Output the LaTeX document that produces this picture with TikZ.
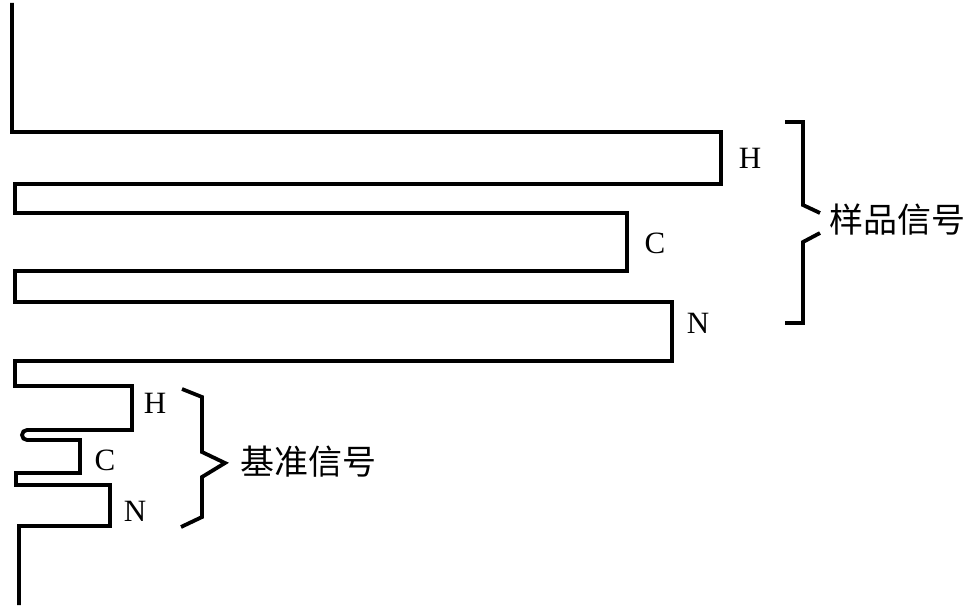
\documentclass[tikz,border=0pt]{standalone}
\usepackage{fontspec}
\setmainfont{Liberation Serif}
\newfontfamily\cjk{Noto Sans CJK SC}
\usetikzlibrary{positioning}

\begin{document}
\begin{tikzpicture}[x=1pt, y=-1pt]
	\tikzset{
		trace/.style={line width=3.8pt, line join=miter},
		brace/.style={line width=3.8pt, line join=miter},
		peaklabel/.style={font=\fontsize{31}{36}\selectfont, inner sep=0pt},
		grouplabel/.style={font=\cjk\fontsize{34}{40}\selectfont, inner sep=0pt, anchor=west}
	}
	\useasboundingbox (0,0) rectangle (972,612);
	% signal trace
	\draw[trace] (12,3) -- (12,132) -- (721,132) -- (721,184) -- (15,184) -- (15,213)
		-- (627,213) -- (627,271) -- (15,271) -- (15,302) -- (672,302) -- (672,361)
		-- (15,361) -- (15,386) -- (132,386) -- (132,430) -- (27,430)
		arc[start angle=90, end angle=270, radius=5pt] -- (80,440) -- (80,473)
		-- (16,473) -- (16,485) -- (110,485) -- (110,526) -- (19,526) -- (19,605);
	% peak labels
	\node[peaklabel] (sH) at (750,158) {H};
	\node[peaklabel] (sC) at (655,243) {C};
	\node[peaklabel] (sN) at (698,323) {N};
	\node[peaklabel] (rH) at (155,403) {H};
	\node[peaklabel] (rC) at (105,460) {C};
	\node[peaklabel] (rN) at (135,511) {N};
	% braces
	\draw[brace] (785,122) -- (803,122) -- (803,205) -- (820,213);
	\draw[brace] (820,233) -- (803,242) -- (803,323) -- (785,323);
	\node[grouplabel] (sample) at (829,220) {样品信号};
	\draw[brace] (182,389) -- (202,397) -- (202,452) -- (225,463) -- (202,477) -- (202,517) -- (181,527);
	\node[grouplabel] (reference) at (240,462) {基准信号};
\end{tikzpicture}
\end{document}
